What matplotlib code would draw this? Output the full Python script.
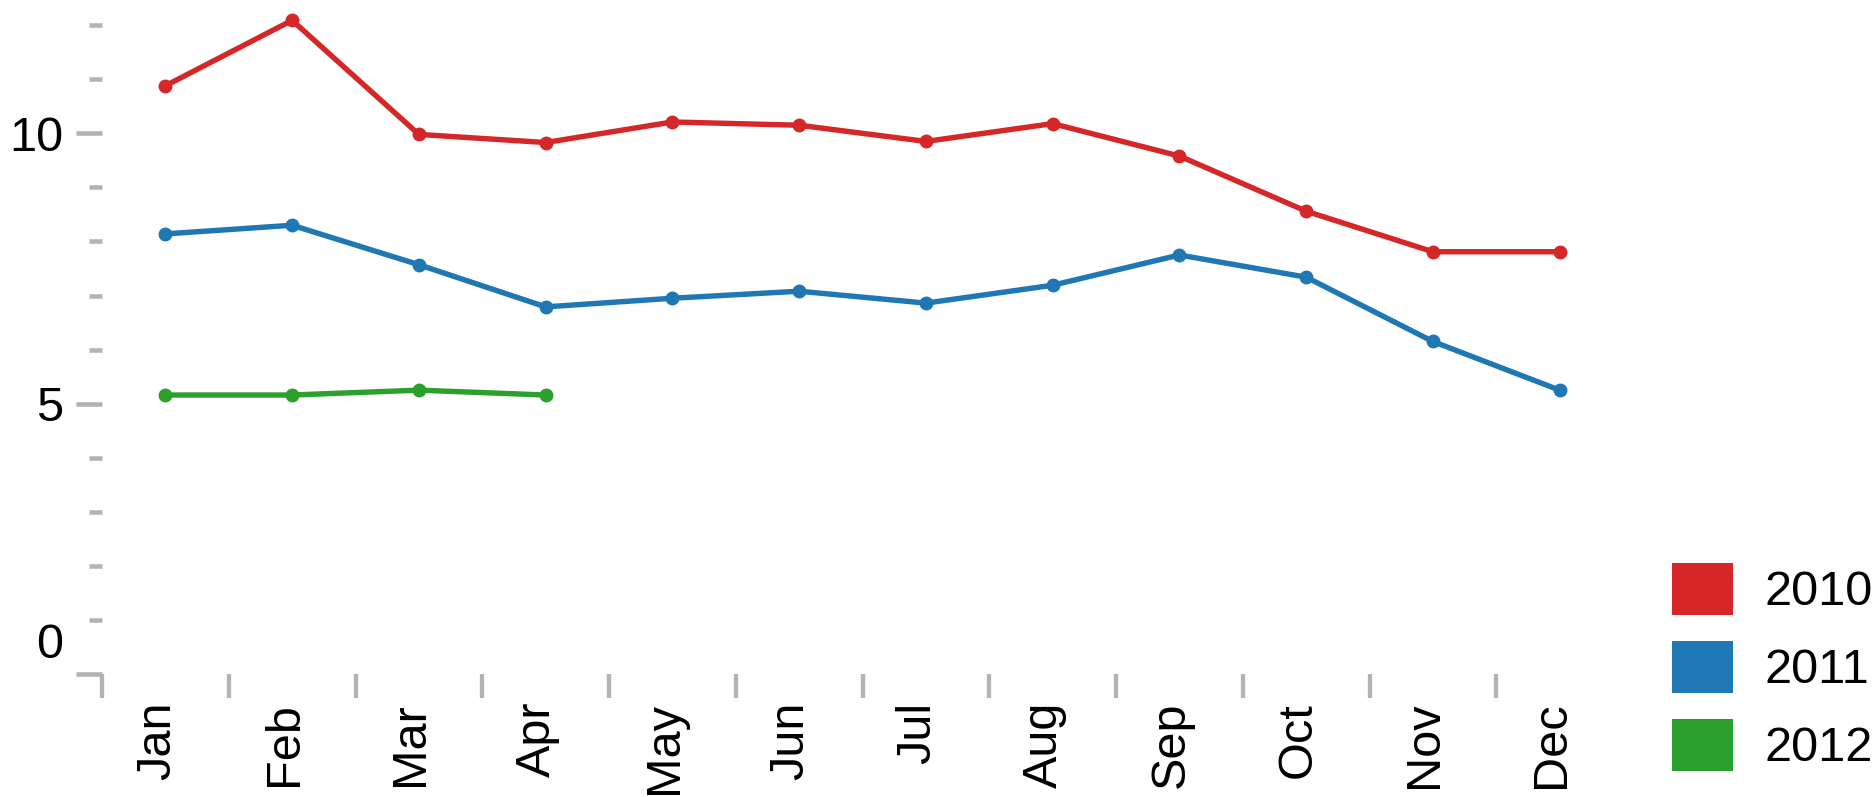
import matplotlib
matplotlib.use("Agg")
import matplotlib.pyplot as plt
from matplotlib.patches import Patch
from matplotlib.transforms import ScaledTranslation
import numpy as np

plt.rcParams['font.family'] = ['Liberation Sans', 'DejaVu Sans']

months = ['Jan', 'Feb', 'Mar', 'Apr', 'May', 'Jun', 'Jul', 'Aug', 'Sep', 'Oct', 'Nov', 'Dec']
years = ['2010', '2011', '2012']
v2010 = [10.88, 12.09, 9.98, 9.83, 10.21, 10.15, 9.85, 10.18, 9.58, 8.56, 7.81, 7.81]
v2011 = [8.14, 8.30, 7.57, 6.79, 6.95, 7.08, 6.86, 7.19, 7.75, 7.34, 6.15, 5.25]
v2012 = [5.16, 5.16, 5.25, 5.16]
colors = ['#d62728', '#1f77b4', '#2ca02c']
y_major = [0, 5, 10]
y_labels = ['0', '5', '10']

W, H = 1876, 797
fig = plt.figure(figsize=(W / 100, H / 100), dpi=100)
ax = fig.add_axes([102 / W, 1 - 674 / H, 1521 / W, (674 - 25.2) / H])

x = np.arange(len(months))
for vals, c, lab in zip([v2010, v2011, v2012], colors, years):
    ax.plot(x[:len(vals)], vals, color=c, lw=3.9, marker='o', ms=9,
            clip_on=False, solid_joinstyle='round', label=lab)

ax.set_xlim(-0.5, len(months) - 0.5)
ax.set_ylim(0, 12)
for s in ax.spines.values():
    s.set_visible(False)

grey = '#b3b3b3'
ax.set_xticks(x)
ax.set_xticklabels(months, rotation=90, fontsize=35)
ax.set_xticks(x - 0.5, minor=True)
ax.tick_params(axis='x', which='major', length=0, pad=20)
ax.tick_params(axis='x', which='minor', length=17.3, width=3.1, color=grey)

ax.set_yticks(y_major)
ax.set_yticklabels(y_labels, fontsize=35)
ax.set_yticks(np.arange(0, 13), minor=True)
ax.tick_params(axis='y', which='major', length=18.7, width=3.3, color=grey, pad=9)
ax.tick_params(axis='y', which='minor', length=9.4, width=3.3, color=grey)

for lbl in ax.get_xticklabels():
    lbl.set_transform(lbl.get_transform() + ScaledTranslation(-8 / 100, 0, fig.dpi_scale_trans))
lbl0 = ax.get_yticklabels()[0]
lbl0.set_transform(lbl0.get_transform() + ScaledTranslation(0, 33 / 100, fig.dpi_scale_trans))

handles = [Patch(facecolor=c, edgecolor='none', label=y) for c, y in zip(colors, years)]
fig.legend(handles=handles, loc='upper left', bbox_to_anchor=(1672 / W, 1 - 563 / H),
           frameon=False, fontsize=35, handlelength=1.255, handleheight=1.255,
           handletextpad=0.64, labelspacing=0.535, borderpad=0, borderaxespad=0)

fig.savefig('out.png', dpi=100)
